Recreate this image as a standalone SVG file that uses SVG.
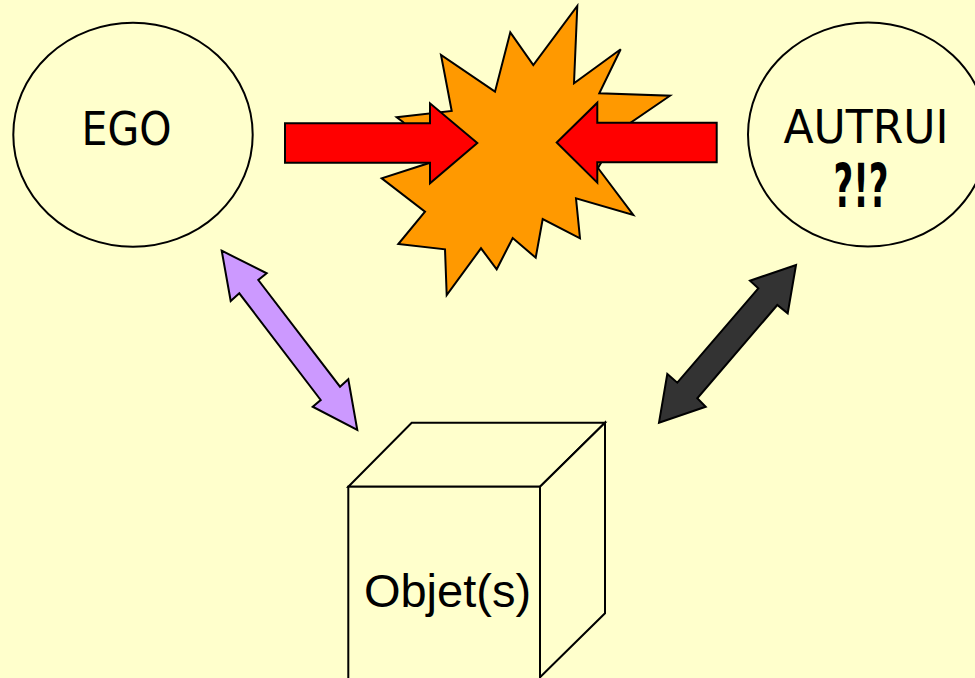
<svg xmlns="http://www.w3.org/2000/svg" width="975" height="678" viewBox="0 0 975 678">
<style>
.ln{stroke:#000;stroke-width:2;stroke-linejoin:miter}
.node{fill:#FFFFCC;stroke:#000;stroke-width:2}
.lbl{font-family:"DejaVu Sans","Liberation Sans",sans-serif;fill:#000}
.arial{font-family:"Liberation Sans",Arial,sans-serif;fill:#000}
</style>
<rect width="975" height="678" fill="#FFFFCC"/>
<g id="ego">
<ellipse class="node" cx="133" cy="134.7" rx="119.7" ry="112"/>
<text class="lbl" x="126.5" y="145" font-size="46" text-anchor="middle" textLength="90" lengthAdjust="spacingAndGlyphs">EGO</text>
</g>
<g id="autrui">
<ellipse class="node" cx="868" cy="134.5" rx="120" ry="112"/>
<text class="lbl" x="866" y="143.3" font-size="46" text-anchor="middle" textLength="165" lengthAdjust="spacingAndGlyphs">AUTRUI</text>
<text class="lbl" x="861" y="207" font-size="60" font-weight="bold" text-anchor="middle" textLength="55" lengthAdjust="spacingAndGlyphs">?!?</text>
</g>
<g id="clash">
<polygon class="ln" fill="#FF9900" points="577.3,6 574,83.3 620.7,49.3 599.3,93.3 670,95.7 620,130 598,168 633.3,215 576,198.3 580,238.3 542.7,219 535.7,257.7 512.7,238 496.7,269.3 481,248.3 446.7,295 445,249.3 398.3,244 425,211.7 381.7,178.3 428.3,163.3 420,140 403,122 396.7,117.3 451.7,111 441,55 495,91.7 510.3,32.3 533.3,65"/>
</g>
<g id="objets">
<polygon class="node" points="348.3,486.7 411.7,422.7 605,422.7 540,486.7"/>
<polygon class="node" points="540,486.7 605,422.7 605,613.3 540,677.3"/>
<rect class="node" x="348.3" y="486.7" width="191.7" height="200"/>
<text class="arial" x="447.5" y="607" font-size="47" text-anchor="middle">Objet(s)</text>
</g>
<g id="connectors">
<polygon class="ln" fill="#FF0000" points="285,123.3 430,123.3 430,103.3 477.3,143 430,183.3 430,162.7 285,162.7"/>
<polygon class="ln" fill="#FF0000" points="716.7,122.7 597.3,122.7 597.3,102.7 556.7,142.5 597.3,182.7 597.3,162.3 716.7,162.3"/>
<polygon class="ln" fill="#CC99FF" points="221.7,250.7 266.7,273.3 258.3,280 340,386.7 348.3,379.3 357.3,430 312.7,406.7 320.7,400 239.3,293.3 230.7,301"/>
<polygon class="ln" fill="#333333" points="796,265 787.7,313.3 777.3,305 697.3,398.3 705.7,406.7 659,422.7 667.3,374 677.3,382.7 758.3,288.3 750,280.7"/>
</g>
</svg>
